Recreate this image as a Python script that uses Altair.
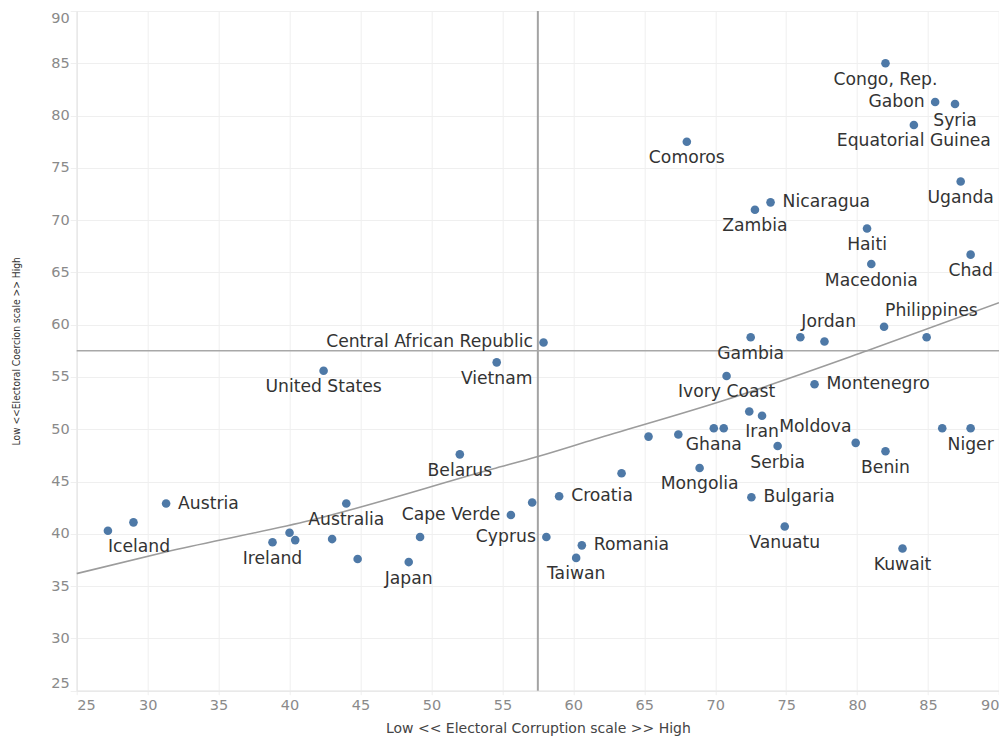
import altair as alt
import pandas as pd

countries = [
    "Congo, Rep.", "Gabon", "Syria", "Equatorial Guinea", "Comoros", "Uganda",
    "Nicaragua", "Zambia", "Haiti", "Macedonia", "Chad", "Philippines", "",
    "Gambia", "Jordan", "", "Central African Republic", "Vietnam", "United States",
    "Ivory Coast", "Montenegro", "Moldova", "Iran", "Ghana", "", "", "", "Serbia",
    "", "Benin", "", "Niger", "Belarus", "Mongolia", "", "Bulgaria", "Croatia", "",
    "Cape Verde", "Austria", "", "Iceland", "Australia", "", "Ireland", "", "", "",
    "Japan", "", "Cyprus", "Romania", "Taiwan", "Vanuatu", "Kuwait",
]
corruption = [
    82.0, 85.5, 86.9, 84.0, 68.0, 87.3,
    73.9, 72.8, 80.7, 81.0, 88.0, 81.9, 84.9,
    72.5, 76.0, 77.7, 57.9, 54.6, 42.4,
    70.8, 77.0, 72.4, 73.3, 69.9, 70.6, 65.3, 67.4, 74.4,
    79.9, 82.0, 86.0, 88.0, 52.0, 68.9, 63.4, 72.55, 59.0, 57.1,
    55.6, 31.3, 29.0, 27.2, 44.0, 40.0, 38.8, 40.4, 43.0, 44.8,
    48.4, 49.2, 58.1, 60.6, 60.2, 74.9, 83.2,
]
coercion = [
    85.0, 81.3, 81.1, 79.1, 77.5, 73.7,
    71.7, 71.0, 69.2, 65.8, 66.7, 59.8, 58.8,
    58.8, 58.8, 58.4, 58.3, 56.4, 55.6,
    55.1, 54.3, 51.7, 51.3, 50.1, 50.1, 49.3, 49.5, 48.4,
    48.7, 47.9, 50.1, 50.1, 47.6, 46.3, 45.8, 43.5, 43.6, 43.0,
    41.8, 42.9, 41.1, 40.3, 42.9, 40.1, 39.2, 39.4, 39.5, 37.6,
    37.3, 39.7, 39.7, 38.9, 37.7, 40.7, 38.6,
]

# exponential trend line at several positions
trend_corruption = [25, 31.7, 41.5, 54.3, 57.5, 61.5, 70.7, 80.7, 90]
trend_coercion = [36.2, 38.4, 41.3, 46.2, 47.4, 49.05, 52.8, 57.5, 62.1]

labels_below = [
    "Congo, Rep.", "Syria", "Equatorial Guinea", "Comoros", "Uganda", "Zambia",
    "Haiti", "Macedonia", "Chad", "Gambia", "Vietnam", "United States",
    "Ivory Coast", "Iran", "Ghana", "Serbia", "Benin", "Niger", "Belarus",
    "Mongolia", "Australia", "Ireland", "Japan", "Taiwan", "Vanuatu", "Kuwait",
]
labels_below_start = ["Iceland"]
labels_above_start = ["Jordan", "Philippines"]
labels_left = ["Gabon", "Central African Republic", "Cape Verde", "Cyprus"]
labels_right = ["Nicaragua", "Montenegro", "Bulgaria", "Croatia", "Austria", "Romania"]
labels_right_low = ["Moldova"]

ref_corruption = [57.5]
ref_coercion = [57.5]
x_ticks = [25, 30, 35, 40, 45, 50, 55, 60, 65, 70, 75, 80, 85, 90]
y_ticks = [25, 30, 35, 40, 45, 50, 55, 60, 65, 70, 75, 80, 85, 90]

x_title = "Low << Electoral Corruption scale >> High"
y_title = "Low <<Electoral Coercion scale >> High"


def placement(name):
    if name in labels_below:
        return "below"
    if name in labels_below_start:
        return "below_start"
    if name in labels_above_start:
        return "above_start"
    if name in labels_left:
        return "left"
    if name in labels_right:
        return "right"
    if name in labels_right_low:
        return "right_low"
    return "none"


df = pd.DataFrame({
    "country": countries,
    "corruption": corruption,
    "coercion": coercion,
})
df["pos"] = [placement(n) for n in countries]

trend_df = pd.DataFrame({"corruption": trend_corruption, "coercion": trend_coercion})

GRID = "#efefef"
x_scale = alt.Scale(domain=[25, 90], nice=False, zero=False)
y_scale = alt.Scale(domain=[25, 90], nice=False, zero=False)

x_axis = alt.Axis(
    values=x_ticks, title=x_title, labelFlush=True,
    labelFont="DejaVu Sans", labelFontSize=14.5, labelColor="#8a8a8a",
    labelPadding=4, tickSize=4, tickColor=GRID, domainColor="#e6e6e6",
    gridColor=GRID, titleFont="DejaVu Sans", titleFontSize=14,
    titleFontWeight="normal", titleColor="#444444", titleY=41.5,
    titleBaseline="alphabetic",
)
y_axis = alt.Axis(
    values=y_ticks, title=y_title, labelFlush=True,
    labelFont="DejaVu Sans", labelFontSize=14.5, labelColor="#8a8a8a",
    labelPadding=1, tickSize=6.5, tickColor=GRID, domainColor="#e6e6e6",
    gridColor=GRID, titleFont="DejaVu Sans Condensed, sans-serif",
    titleFontSize=10.2, titleFontWeight="normal", titleColor="#333333",
    titleX=-60, titleBaseline="middle",
)

base = alt.Chart(df)

points = base.mark_circle(size=74, opacity=1, color="#4e79a7").encode(
    x=alt.X("corruption:Q", scale=x_scale, axis=x_axis),
    y=alt.Y("coercion:Q", scale=y_scale, axis=y_axis),
    tooltip=["country", "corruption", "coercion"],
)

trend = alt.Chart(trend_df).mark_line(
    color="#9c9c9c", strokeWidth=1.6, interpolate="monotone"
).encode(x="corruption:Q", y="coercion:Q")

vline = alt.Chart(pd.DataFrame({"corruption": ref_corruption})).mark_rule(
    color="#a3a3a3", strokeWidth=2
).encode(x="corruption:Q")
hline = alt.Chart(pd.DataFrame({"coercion": ref_coercion})).mark_rule(
    color="#a8a8a8", strokeWidth=1.5
).encode(y="coercion:Q")

text_style = dict(font="DejaVu Sans", fontSize=17.2, color="#333333")


def label_layer(pos, **kw):
    return base.transform_filter(alt.datum.pos == pos).mark_text(
        **text_style, **kw
    ).encode(x="corruption:Q", y="coercion:Q", text="country:N")


labels = [
    label_layer("below", align="center", baseline="middle", dy=16.5),
    label_layer("below_start", align="left", baseline="middle", dy=16.5),
    label_layer("above_start", align="left", baseline="middle", dx=1, dy=-15.5),
    label_layer("left", align="right", baseline="middle", dx=-10.5),
    label_layer("right", align="left", baseline="middle", dx=12),
    label_layer("right_low", align="left", baseline="middle", dx=30, dy=15),
]

chart = alt.layer(vline, hline, trend, points, *labels).properties(
    width=922.3,
    height=679.7,
    autosize=alt.AutoSizeParams(type="none"),
    padding={"left": 68.7, "top": 3, "right": 0, "bottom": 45.3},
).configure_view(stroke=None).configure(background="white")

chart.save("out.html", embed_options={"renderer": "svg", "actions": False})
